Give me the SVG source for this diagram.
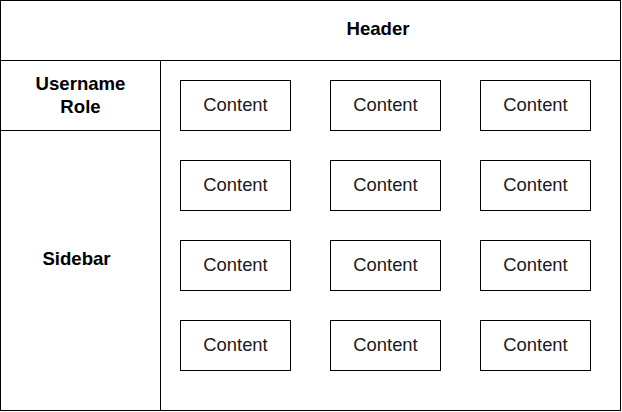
<svg xmlns="http://www.w3.org/2000/svg" width="622" height="412" viewBox="0 0 622 412">
<style>
.ln{fill:#fff;stroke:#000;stroke-width:1}
.b{font-family:"Liberation Sans",Arial,sans-serif;font-weight:bold;font-size:18.6px;fill:#000;text-anchor:middle}
.c{font-family:"Liberation Sans",Arial,sans-serif;font-size:18.4px;fill:#1a1a1a;text-anchor:middle}
</style>
<rect x="0" y="0" width="622" height="412" fill="#fff"/>
<g id="frame">
<rect class="ln" x="0.5" y="0.5" width="620" height="410"/>
</g>
<g id="header">
<line x1="0.5" y1="60.5" x2="620.5" y2="60.5" stroke="#000"/>
<text class="b" x="378" y="35">Header</text>
</g>
<g id="user">
<line x1="0.5" y1="130.5" x2="160.5" y2="130.5" stroke="#000"/>
<text class="b" x="80.5" y="90">Username</text>
<text class="b" x="80.5" y="112.5">Role</text>
</g>
<g id="sidebar">
<line x1="160.5" y1="60.5" x2="160.5" y2="410.5" stroke="#000"/>
<text class="b" x="76.5" y="265">Sidebar</text>
</g>
<g id="contents">
<g id="c11"><rect class="ln" x="180.5" y="80.5" width="110" height="50"/><text class="c" x="235.5" y="111">Content</text></g>
<g id="c12"><rect class="ln" x="330.5" y="80.5" width="110" height="50"/><text class="c" x="385.5" y="111">Content</text></g>
<g id="c13"><rect class="ln" x="480.5" y="80.5" width="110" height="50"/><text class="c" x="535.5" y="111">Content</text></g>
<g id="c21"><rect class="ln" x="180.5" y="160.5" width="110" height="50"/><text class="c" x="235.5" y="191">Content</text></g>
<g id="c22"><rect class="ln" x="330.5" y="160.5" width="110" height="50"/><text class="c" x="385.5" y="191">Content</text></g>
<g id="c23"><rect class="ln" x="480.5" y="160.5" width="110" height="50"/><text class="c" x="535.5" y="191">Content</text></g>
<g id="c31"><rect class="ln" x="180.5" y="240.5" width="110" height="50"/><text class="c" x="235.5" y="271">Content</text></g>
<g id="c32"><rect class="ln" x="330.5" y="240.5" width="110" height="50"/><text class="c" x="385.5" y="271">Content</text></g>
<g id="c33"><rect class="ln" x="480.5" y="240.5" width="110" height="50"/><text class="c" x="535.5" y="271">Content</text></g>
<g id="c41"><rect class="ln" x="180.5" y="320.5" width="110" height="50"/><text class="c" x="235.5" y="351">Content</text></g>
<g id="c42"><rect class="ln" x="330.5" y="320.5" width="110" height="50"/><text class="c" x="385.5" y="351">Content</text></g>
<g id="c43"><rect class="ln" x="480.5" y="320.5" width="110" height="50"/><text class="c" x="535.5" y="351">Content</text></g>
</g>
<g id="connectors"></g>
</svg>
